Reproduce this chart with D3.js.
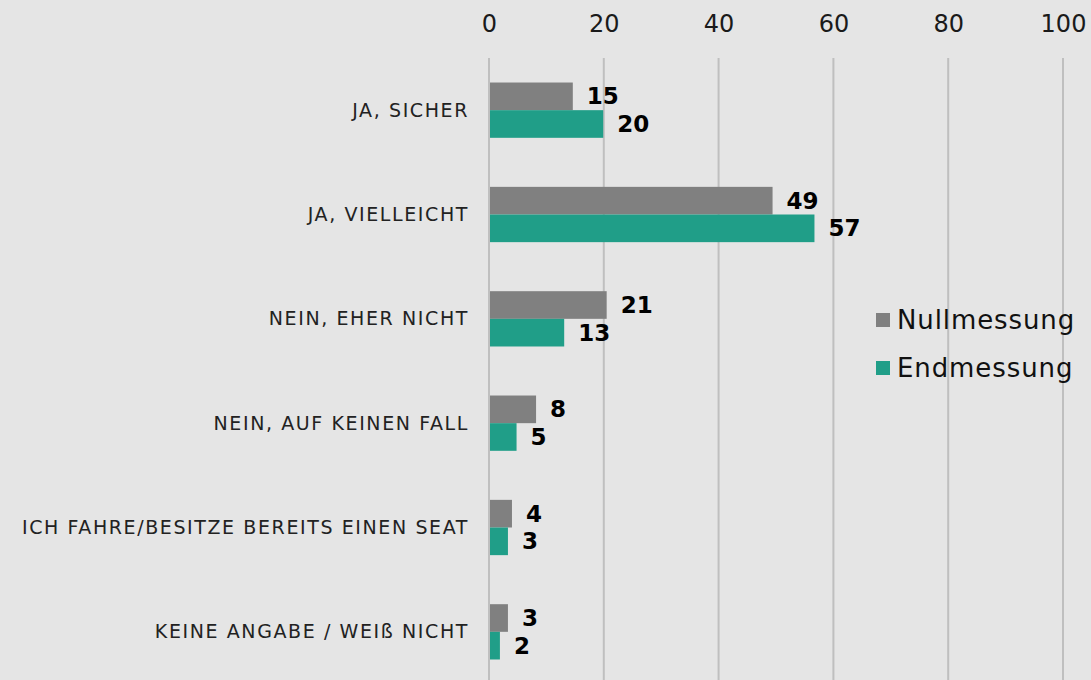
<!DOCTYPE html>
<html lang="de">
<head>
<meta charset="UTF-8">
<title>Nullmessung / Endmessung</title>
<script src="https://d3js.org/d3.v7.min.js"></script>
<style>
    body { margin: 0; padding: 0; background: #e5e5e5; font-family: "DejaVu Sans", sans-serif; }
    svg { display: block; }
</style>
</head>
<body>
<svg id="chart"></svg>
<script>
    const categories = [
        "JA, SICHER",
        "JA, VIELLEICHT",
        "NEIN, EHER NICHT",
        "NEIN, AUF KEINEN FALL",
        "ICH FAHRE/BESITZE BEREITS EINEN SEAT",
        "KEINE ANGABE / WEIß NICHT"
    ];
    const seriesNames = ["Nullmessung", "Endmessung"];
    const nullmessung = [14.6, 49.4, 20.5, 8.2, 4.0, 3.3];
    const endmessung = [19.9, 56.7, 13.1, 4.8, 3.3, 1.9];
    const tickValues = [0, 20, 40, 60, 80, 100];
    const colors = ["#808080", "#209e88"];

    const width = 1091, height = 680;
    const svg = d3.select("#chart").attr("width", width).attr("height", height);

    const x = d3.scaleLinear().domain([0, 100]).range([489, 1063]);
    const y = d3.scaleBand().domain(categories).range([58, 684]).paddingInner(0.47).paddingOuter(0.235);
    const ySub = d3.scaleBand().domain(seriesNames).range([0, y.bandwidth()]);

    // grid lines
    svg.append("g")
        .selectAll("line")
        .data(tickValues)
        .join("line")
        .attr("x1", d => x(d)).attr("x2", d => x(d))
        .attr("y1", 58).attr("y2", height)
        .attr("stroke", "#bfbfbf")
        .attr("stroke-width", 2);

    // top axis labels
    const axis = svg.append("g")
        .attr("transform", "translate(0,32)")
        .call(d3.axisTop(x).tickValues(tickValues).tickSize(0).tickPadding(0));
    axis.select(".domain").remove();
    axis.selectAll("text")
        .attr("font-family", "DejaVu Sans, sans-serif")
        .attr("font-size", 24)
        .attr("fill", "#1a1a1a");

    // category labels
    svg.append("g")
        .selectAll("text")
        .data(categories)
        .join("text")
        .attr("x", 469)
        .attr("y", d => y(d) + y.bandwidth() / 2)
        .attr("dy", "0.35em")
        .attr("text-anchor", "end")
        .attr("font-size", 19)
        .attr("letter-spacing", 1.6)
        .attr("fill", "#222")
        .text(d => d);

    const rows = categories.map((c, i) => ({ cat: c, values: [nullmessung[i], endmessung[i]] }));

    const groups = svg.append("g")
        .selectAll("g")
        .data(rows)
        .join("g")
        .attr("transform", d => `translate(0,${y(d.cat)})`);

    groups.selectAll("rect")
        .data(d => d.values.map((v, j) => ({ key: seriesNames[j], value: v, color: colors[j] })))
        .join("rect")
        .attr("x", x(0) + 1)
        .attr("y", d => ySub(d.key))
        .attr("width", d => x(d.value) - x(0) - 1)
        .attr("height", ySub.bandwidth())
        .attr("fill", d => d.color);

    groups.selectAll("text")
        .data(d => d.values.map((v, j) => ({ key: seriesNames[j], value: v })))
        .join("text")
        .attr("x", d => x(d.value) + 14)
        .attr("y", d => ySub(d.key) + ySub.bandwidth() / 2)
        .attr("dy", "0.35em")
        .attr("font-size", 23)
        .attr("font-weight", "bold")
        .attr("fill", "#000")
        .text(d => d3.format(".0f")(d.value));

    // legend
    const legend = svg.append("g")
        .selectAll("g")
        .data(seriesNames)
        .join("g")
        .attr("transform", (d, i) => `translate(876,${320 + i * 48})`);
    legend.append("rect")
        .attr("x", 0).attr("y", -7)
        .attr("width", 14).attr("height", 14)
        .attr("fill", (d, i) => colors[i]);
    legend.append("text")
        .attr("x", 21)
        .attr("dy", "0.35em")
        .attr("font-size", 26)
        .attr("letter-spacing", 0.9)
        .attr("fill", "#111")
        .text(d => d);
</script>
</body>
</html>
